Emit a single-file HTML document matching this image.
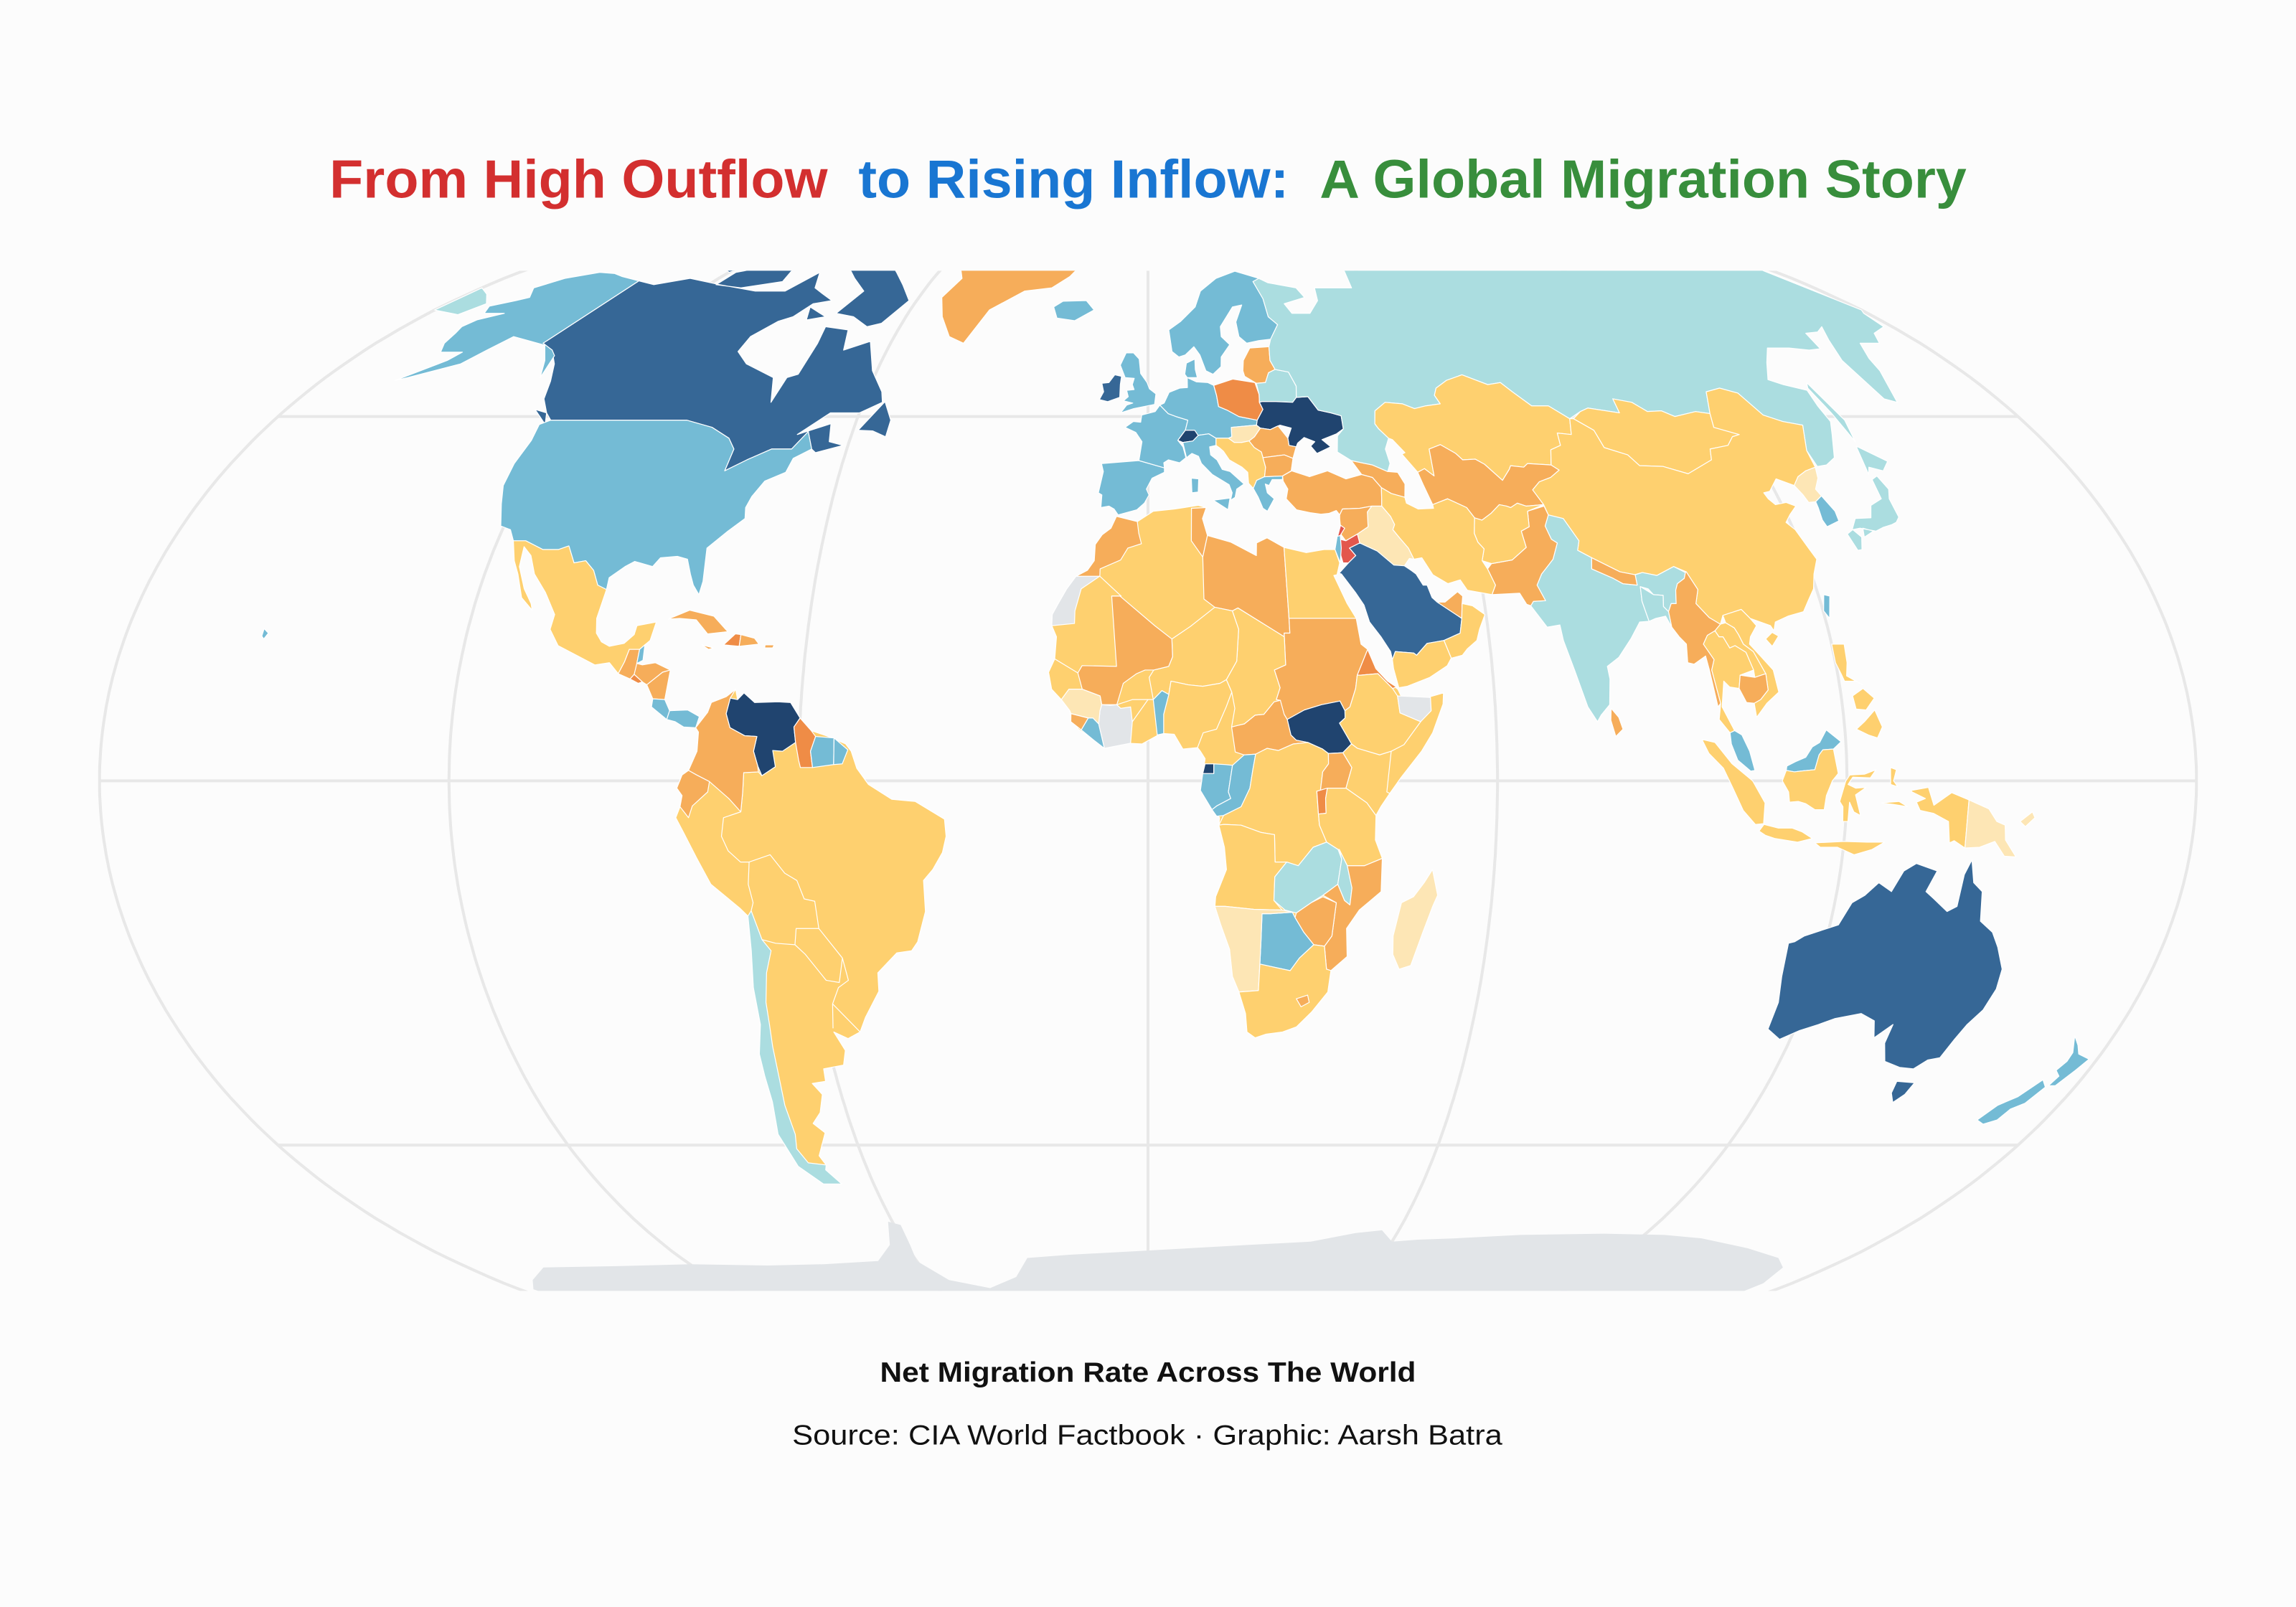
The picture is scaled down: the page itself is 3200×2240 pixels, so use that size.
<!DOCTYPE html>
<html><head><meta charset="utf-8"><title>Net Migration Rate Across The World</title>
<style>
html,body{margin:0;padding:0;background:#fcfcfc;}
svg{display:block;}
text{font-family:"Liberation Sans",sans-serif;white-space:pre;}
</style></head>
<body>
<svg id="chart" width="3200" height="2240" viewBox="0 0 1568 1098" preserveAspectRatio="none" xmlns="http://www.w3.org/2000/svg">
<rect x="0" y="0" width="1568" height="1098" fill="#fcfcfc"/>
<text x="225" y="135" font-size="37" font-weight="bold" textLength="1118" lengthAdjust="spacingAndGlyphs"><tspan fill="#d32f2f">From High Outflow  </tspan><tspan fill="#1976d2">to Rising Inflow:  </tspan><tspan fill="#388e3c">A Global Migration Story</tspan></text>
<defs><clipPath id="mapclip"><rect x="0" y="185" width="1568" height="697"/></clipPath></defs>
<g id="grat" clip-path="url(#mapclip)" fill="none" stroke="#e8e8e8" stroke-width="2"></g>
<g id="land" clip-path="url(#mapclip)" stroke="#ffffff" stroke-width="0.6" stroke-linejoin="round"></g>
<text x="601" y="944" font-size="19" font-weight="bold" fill="#111" textLength="366" lengthAdjust="spacingAndGlyphs">Net Migration Rate Across The World</text>
<text x="541" y="987" font-size="19" fill="#111" textLength="485" lengthAdjust="spacingAndGlyphs">Source: CIA World Factbook · Graphic: Aarsh Batra</text>
</svg>
<script>
// ---- data ----
const countryNames = ["Africa base","South America base","Antarctica","Canada","United States","Mexico","Guatemala","Belize","Honduras","El Salvador","Nicaragua","Costa Rica","Panama","Cuba","Haiti","Dominican Republic","Jamaica","Puerto Rico","Greenland","Iceland","Venezuela","Colombia","Ecuador","Guyana","Suriname","French Guiana","Chile","Spain","France","United Kingdom","Ireland","Germany","Poland","Switzerland","Denmark","Sweden","Lithuania","Belarus","Ukraine","Romania","Hungary","Serbia","Greece","Bulgaria","Italy","Turkey","Armenia","Russia","Kazakhstan","Uzbekistan","Mongolia","China","Taiwan","North Korea","South Korea","Japan","India","Nepal","Bangladesh","Sri Lanka","Pakistan","Afghanistan","Iran","Iraq","Syria","Jordan","Lebanon","Israel","Saudi Arabia","UAE","Oman","Yemen","Western Sahara","Morocco","Tunisia","Libya","Egypt","Sudan","Eritrea","South Sudan","CAR","Chad","Niger","Nigeria","Mali","Cote d'Ivoire","Guinea","Liberia","Sierra Leone","Benin","Gabon","Congo","Equatorial Guinea","DR Congo","Angola","Uganda","Rwanda","Ethiopia","Kenya","Somaliland","Tanzania","Zambia","Malawi","Mozambique","Zimbabwe","Botswana","Namibia","South Africa","Lesotho","Madagascar","Myanmar","Thailand","Laos","Vietnam","Cambodia","Malaysia","Indonesia","Papua New Guinea","Philippines","Australia","New Zealand"];
const netMigration = [-0.8,-0.8,null,5.5,2.5,-0.8,-2.5,2.5,-2.5,-5,-2.5,2.5,2.5,-2.5,-5,-2.5,-2.5,-2.5,-2.5,2.5,9,-2.5,-2.5,-5,2.5,2.5,0.8,2.5,2.5,2.5,5.5,2.5,-5,9,2.5,2.5,-2.5,0.8,9,-2.5,0,-0.8,2.5,-2.5,2.5,-2.5,-2.5,0.8,-0.8,-2.5,-0.8,-0.8,2.5,0,2.5,0.8,0.8,-2.5,0.8,-2.5,-2.5,-0.8,-0.8,0,-2.5,-10,-10,2.5,5.5,-2.5,-0.8,-0.8,null,-2.5,-2.5,-2.5,-0.8,-2.5,-5,9,-2.5,-0.8,-0.8,-0.8,-2.5,null,0,2.5,-2.5,2.5,2.5,2.5,9,-0.8,-0.8,-2.5,-5,-0.8,-0.8,null,-0.8,0.8,0.8,-2.5,-2.5,2.5,0,-0.8,-2.5,0,-2.5,-0.8,-0.8,-0.8,-2.5,2.5,-0.8,0,-0.8,5.5,2.5];
const binEdges = [-8,-4,-1.5,-0.3,0.3,1.5,4,8];
const binColors = ["#e3574d","#ef8c46","#f6ad5a","#fed06f","#fde6b5","#abdde0","#74bbd5","#366796","#20446f"];
const noDataColor = "#e2e5e8";

// ---- geometry (lon, lat) ----
const G = {
"Africa base":[[[-5.9,35.8],[-2,35.1],[1,36.5],[5,36.8],[9.5,37.3],[11,37],[10.2,35.5],[11,33.2],[15.3,32.3],[19.8,30.5],[20,32.2],[22,32.9],[25,31.6],[29,30.9],[32.3,31.3],[34.3,31.3],[34.9,29.5],[34.2,27.9],[33.6,27.8],[35.5,24],[36.9,22],[37.4,18.5],[38.5,17.8],[39.7,15.2],[41.6,13.5],[43.3,12.4],[44.4,10.4],[51.2,11.9],[51,10.4],[49,6.5],[47,4],[43.5,0.5],[41.5,-1.7],[40,-3.5],[39.2,-4.7],[39.2,-8],[40.5,-10.5],[40.6,-15],[37,-17.5],[35,-20],[35.5,-23.8],[32.8,-25.7],[32.6,-28.6],[30,-31.3],[27.5,-33.3],[25,-34],[22,-34.3],[20,-34.8],[18.4,-34],[17.9,-31.5],[16.5,-28.6],[15.2,-26.5],[14.5,-22.8],[12.8,-19.5],[11.7,-17],[11.8,-15.7],[13.6,-12],[13.2,-9],[12.2,-6],[12.3,-5],[11,-3.9],[9,-1.3],[9.4,1],[9.8,3],[9,4],[8.5,4.5],[6,4.3],[4.5,6.3],[2,6.3],[-1,5],[-3.5,5.1],[-7.5,4.4],[-9.5,5.6],[-12,7],[-13.3,8.5],[-13.5,9.5],[-15,11],[-16.7,12.4],[-17.3,14.7],[-16.3,16.5],[-16.1,19.5],[-17,21],[-17,22.5],[-16,24],[-14.6,26],[-13,27.7],[-11,28.5],[-9.8,29.8],[-9.7,32],[-8.5,33.3],[-6.9,34.2]]],
"South America base":[[[-77.9,7.2],[-76,9.3],[-75.5,10.6],[-73,11.4],[-71.5,12.4],[-71,11],[-71.6,10.5],[-68,10.6],[-64,10.7],[-61.8,10.6],[-60,8.5],[-58,6.8],[-55,6],[-52,5],[-51,4],[-50,1.7],[-48,-0.5],[-44,-2.5],[-40,-2.8],[-35,-5.2],[-34.8,-7.5],[-35.5,-9.7],[-37.3,-12],[-39,-13.5],[-39,-17.7],[-40.8,-21.8],[-42,-23],[-44.7,-23.3],[-48.5,-26],[-48.8,-28.5],[-52,-32],[-53.5,-34],[-56,-34.9],[-58.4,-34],[-57,-36.5],[-58,-38.5],[-62,-39],[-62.3,-40.7],[-65,-41],[-63.7,-42.5],[-65.3,-45],[-67.5,-46.5],[-65.8,-47.8],[-69,-51],[-68.4,-52.3],[-70,-53.5],[-67,-55],[-71,-55],[-74.5,-52.5],[-75.5,-48],[-74,-43.5],[-73.7,-40],[-73.4,-37],[-71.7,-33],[-71.4,-28],[-70.5,-23],[-70.2,-18.3],[-71.5,-17.2],[-76,-14],[-78,-10.5],[-80,-7],[-81.2,-5],[-80.4,-3.5],[-80,-2],[-80.9,-1],[-80,0.8],[-78.9,1.4],[-77.5,4],[-77.4,6.6]]],
"Antarctica":[[[-176,-75],[-176,-71],[-170,-69.5],[-160,-67.5],[-140,-67.3],[-120,-67],[-100,-67.2],[-85,-67],[-70,-66.5],[-64,-64],[-61,-60.5],[-58.5,-61],[-59,-64],[-60,-66.5],[-55,-69.5],[-45,-70.8],[-36,-69],[-31,-66],[-20,-65.5],[-5,-65],[10,-64.5],[25,-64],[40,-63.5],[50,-62.2],[56,-61.8],[60,-63.5],[66,-63.2],[75,-63],[90,-62.5],[110,-62.3],[125,-62.5],[135,-63],[150,-64.5],[162,-66],[168,-67.5],[172,-70],[174,-75]]],
"Canada":[[[-141,69.6],[-135,69],[-128,70],[-117,69],[-105,68],[-97,68],[-94,71],[-90,68.5],[-86,67.5],[-82,66.5],[-86,66],[-88,64],[-90.7,63.3],[-94,61],[-94,58.8],[-90,57],[-82,55],[-79.5,51.5],[-79,55],[-77,55.5],[-77,60],[-78,62.5],[-72,62],[-70,59],[-65,60.3],[-61,56],[-57,53],[-56,51.5],[-60,50],[-66,50],[-71,47],[-65,48.5],[-64,46],[-61,45.5],[-66,44.5],[-67,45],[-69,47.4],[-71,45],[-75,45],[-79,43.5],[-82.5,42],[-82.5,45],[-84.5,46.5],[-89,48],[-95,49],[-123,49],[-125,50],[-128,52],[-130,54.5],[-133,57],[-137,59],[-141,60]],
 [[-80,73.5],[-72,71],[-67,69],[-62,66.5],[-65,63],[-68,62.5],[-73,64],[-78,64.5],[-76,68],[-82,70],[-88,72]],
 [[-118,71],[-105,73],[-101,69.5],[-110,68.5],[-118,69]],[[-125,72],[-115,73],[-120,71]],[[-86,65.5],[-80,64],[-84,63.5]],
 [[-59,47.6],[-55.5,51.6],[-53,49],[-53,46.7],[-56,47.5]],[[-100,72],[-95,74],[-90,72.5]],[[-128,50.5],[-125,50],[-123.5,48.4]]],
"United States":[[[-123,49],[-95,49],[-89,48],[-84.5,46.5],[-82.5,45],[-82.5,42],[-79,43.5],[-75,45],[-71,45],[-69,47.4],[-67,45],[-70,43.7],[-70.5,41.8],[-74,40.6],[-75.5,38.5],[-76,37],[-75.5,35.5],[-78,33.8],[-81,31.5],[-80.2,27],[-80.4,25.2],[-81.8,26.5],[-82.8,28],[-84,30],[-86,30.4],[-89,30.2],[-90,29],[-93.5,29.7],[-95,29],[-97.3,27.5],[-97.2,25.9],[-99,26.5],[-100.5,28.5],[-102.5,29.8],[-104.5,29.5],[-106.5,31.8],[-108.2,31.3],[-111,31.3],[-114.8,32.5],[-117.1,32.5],[-118.5,34],[-120.6,34.5],[-122.5,37.5],[-124,40],[-124.4,43],[-124,46.2],[-124.7,48.4]],
 [[-141,69.6],[-141,60],[-137,59],[-135,58.2],[-133,55],[-136,57.5],[-140,59.7],[-146,60.5],[-150,61],[-152,59],[-154,57],[-158,56],[-162,55],[-164,54.6],[-158,57.5],[-157,58.7],[-162,58.7],[-164,60],[-165,61.5],[-166,62.5],[-165,63.5],[-161,64.5],[-166,64.5],[-168,65.6],[-164,66.5],[-162,67],[-166,68.5],[-163,70],[-157,71],[-152,70.8],[-148,70.3]],
 [[-156,20.6],[-155,20],[-155.5,19.2],[-156,19.6]]],
"Mexico":[[[-117.1,32.5],[-114.8,32.5],[-111,31.3],[-108.2,31.3],[-106.5,31.8],[-104.5,29.5],[-102.5,29.8],[-100.5,28.5],[-99,26.5],[-97.2,25.9],[-97.7,22],[-97.2,20],[-96,18.8],[-94.5,18.2],[-92,18.6],[-90.5,19.8],[-90.3,21],[-87,21.5],[-87.5,19],[-88.3,18.4],[-89.1,17.8],[-90.9,17.8],[-91.4,16.1],[-92.2,14.5],[-94,16],[-96.5,15.7],[-100,17],[-103.5,18.3],[-105.5,20.5],[-105.3,22.5],[-108,25.5],[-111,28],[-112.8,30.5],[-114.7,31.7],[-114.2,29],[-112,26],[-110,24],[-109.5,23.1],[-112,24.8],[-114,28],[-115.5,29.8]]],
"Guatemala":[[[-92.2,14.5],[-91.4,16.1],[-90.9,17.8],[-89.1,17.8],[-89.2,15.9],[-88.2,15.7],[-89.4,14.4],[-90,13.8]]],
"Belize":[[[-89.1,17.8],[-88.3,18.4],[-88.2,16.3],[-89.2,15.9]]],
"Honduras":[[[-89.2,15.9],[-88.2,15.7],[-86,16],[-83.2,15],[-84.5,14.7],[-87,13],[-87.8,13.4],[-89.4,14.4]]],
"El Salvador":[[[-90,13.8],[-89.4,14.4],[-87.8,13.4],[-88.5,13.2]]],
"Nicaragua":[[[-87,13],[-84.5,14.7],[-83.2,15],[-83.6,11],[-85.7,11.1]]],
"Costa Rica":[[[-85.7,11.1],[-83.6,11],[-82.6,9.5],[-83,8.3],[-85.8,10]]],
"Panama":[[[-83,8.3],[-82.6,9.5],[-79.5,9.6],[-77.4,8.7],[-77.9,7.2],[-80,7.3],[-81.5,8]]],
"Cuba":[[[-85,21.9],[-81.5,23.1],[-77,22.3],[-74.1,20.2],[-77.6,19.9],[-80,21.8],[-83,22]]],
"Haiti":[[[-74.5,18.4],[-72.7,19.9],[-71.7,19.8],[-71.7,18.2]]],
"Dominican Republic":[[[-71.7,19.8],[-69.2,19.3],[-68.3,18.5],[-71.7,18.2]]],
"Jamaica":[[[-78.3,18.4],[-76.2,18],[-77,17.8]]],
"Puerto Rico":[[[-67.2,18.4],[-65.6,18.4],[-65.8,18],[-67.2,18]]],
"Greenland":[[[-75,78],[-60,82],[-30,83.5],[-14,80],[-17,75],[-20,72],[-22,70.3],[-26,68.5],[-33,68],[-40,65],[-43,60],[-47,61],[-51,64],[-54,67],[-52,70],[-56,72.5],[-62,75.5],[-70,76.5]]],
"Iceland":[[[-24,65.5],[-22,66.4],[-16,66.5],[-13.6,65],[-18,63.4],[-22.5,63.8]]],
"Venezuela":[[[-72.3,11.2],[-71,11],[-70,11.9],[-68,10.6],[-64,10.7],[-61.8,10.6],[-60,8.5],[-61,7.3],[-60.6,5.2],[-62.8,4],[-64.5,4.1],[-64,1.9],[-66.3,0.7],[-67,2],[-67.8,4],[-67.3,6],[-69.4,6.1],[-72,7.2],[-72.8,9.1]]],
"Colombia":[[[-77.9,7.2],[-76,9.3],[-75.5,10.6],[-73,11.4],[-71.5,12.4],[-72.3,11.2],[-72.8,9.1],[-72,7.2],[-69.4,6.1],[-67.3,6],[-67.8,4],[-67,2],[-66.9,1.2],[-69.4,1.1],[-69.6,-1.5],[-70,-4.2],[-72,-2.4],[-75.3,-0.1],[-77.5,0.8],[-78.9,1.4],[-77.5,4],[-77.4,6.6]]],
"Ecuador":[[[-78.9,1.4],[-77.5,0.8],[-75.3,-0.1],[-75.6,-1.5],[-78.3,-3.4],[-79,-5],[-80.4,-3.5],[-80,-2],[-80.9,-1],[-80,0.8]]],
"Guyana":[[[-60,8.5],[-58,6.8],[-57.2,6],[-58,4],[-57.6,1.8],[-59.7,1.8],[-60,2.8],[-60.6,5.2],[-61,7.3]]],
"Suriname":[[[-57.2,6],[-54,5.8],[-54,2.2],[-57.6,1.8],[-58,4]]],
"French Guiana":[[[-54,5.8],[-51.6,4.2],[-52.5,2.3],[-54,2.2]]],
"Chile":[[[-70.2,-18.3],[-69.5,-17.6],[-68.3,-21.5],[-67,-23],[-68.5,-26],[-69.7,-30],[-70,-33],[-70.5,-36],[-71,-40],[-71.8,-44],[-72,-48],[-73,-50],[-72,-52],[-68.4,-52.3],[-69,-53],[-67,-55],[-71,-55],[-74.5,-52.5],[-75.5,-48],[-74,-43.5],[-73.7,-40],[-73.4,-37],[-71.7,-33],[-71.4,-28],[-70.5,-23]]],
"Spain":[[[-9,43],[-1.8,43.4],[3.2,42.4],[3.2,41.8],[0.8,41],[-0.3,39.5],[0.2,38.7],[-0.7,37.6],[-2.1,36.7],[-5.6,36],[-6.4,36.8],[-7.4,37.2],[-8.9,37],[-8.8,38.7],[-9.5,39],[-8.7,41.9],[-9.2,43.2]]],
"France":[[[-1.8,43.4],[-1.2,46],[-2.5,47.3],[-4.7,48],[-3,48.8],[-1.5,48.7],[-1.3,49.7],[1.5,50.2],[2.5,51.1],[4.2,49.9],[5.8,49.5],[8.2,49],[7.6,47.6],[6,46.2],[7,45.3],[7.5,43.8],[6.2,43.1],[4,43.5],[3.1,43.1],[3.2,42.4]]],
"United Kingdom":[[[-5.7,50],[-3,50.6],[1.4,51.2],[1.7,52.7],[0.3,53.4],[-0.2,54.3],[-1.6,55.6],[-2,57.7],[-3.3,58.6],[-5,58.6],[-6.2,56.8],[-5,55],[-3,54.9],[-3.4,54],[-3,53.3],[-4.6,53.2],[-4.2,52.3],[-5.2,51.7],[-3.2,51.4],[-4.5,51.1]]],
"Ireland":[[[-6,52.2],[-6,54],[-5.8,55.2],[-7.3,55.4],[-8.5,54.3],[-10,54.2],[-9.5,53],[-10.3,51.9],[-8.5,51.6]]],
"Germany":[[[2.5,51.1],[3.4,51.4],[4.5,52.9],[6.8,53.5],[8.5,53.6],[8.6,55],[10.5,54.4],[13,54.3],[14.2,53.9],[14.6,52.5],[14.8,50.9],[16.5,50.4],[18.8,49.5],[22.5,49],[22.2,48.3],[20.4,48.2],[17,48],[16.9,46.7],[16.2,46.5],[13.7,46.5],[12.3,47.1],[10.2,46.9],[9,46.1],[7,45.9],[6,46.2],[7.6,47.6],[8.2,49],[5.8,49.5],[4.2,49.9]]],
"Poland":[[[14.2,53.9],[18.5,54.8],[23.2,54.3],[23.7,52.6],[23.5,51.5],[24,50.5],[22.5,49],[18.8,49.5],[16.5,50.4],[14.8,50.9],[14.6,52.5]]],
"Switzerland":[[[6,46.2],[7.6,47.6],[9.5,47.6],[10.4,46.6],[9,46.1],[7,45.9]]],
"Denmark":[[[8.1,55.5],[8.6,57.1],[10.6,57.7],[10.5,56.2],[10.8,55],[8.6,55]]],
"Sweden":[[[5,62],[5.5,58.8],[7,58],[8.5,58.3],[10.6,59.5],[11.8,58.3],[12.8,56],[14.3,55.5],[16.3,56.6],[16.6,58],[19,59.8],[17.3,61],[17.5,62.5],[21.5,65.5],[24,65.8],[21.5,63.2],[21.5,61],[23,60],[26,60.4],[28.8,60.6],[31.5,62.8],[29.8,64],[30,66.8],[29,69.5],[31,70],[25,71.2],[19,70],[14,68],[12,65.5],[8,63.3]]],
"Lithuania":[[[21,56],[21.5,57.5],[23.5,59.3],[28,59.5],[27.5,57.5],[28.2,56.2],[26.6,55.7],[25.5,54.3],[23.5,54.2],[21.2,55.2]]],
"Belarus":[[[23.7,52.6],[23.5,54.2],[25.5,54.3],[26.6,55.7],[28.2,56.2],[31,55.8],[32,53.8],[31.5,52.2],[30.5,51.5],[27,51.6],[24,51.6],[23.5,51.5]]],
"Ukraine":[[[24,50.5],[23.5,51.5],[24,51.6],[27,51.6],[30.5,51.5],[31.5,52.2],[34,52.3],[35.5,50.4],[38,50],[40,49.6],[39.8,47.8],[38.2,47.1],[35,46.3],[36.5,45.3],[33.5,44.4],[32.5,45.4],[33.5,46],[31.5,46.6],[30,45.8],[29.6,45.3],[28.2,45.5],[28.2,46.5],[29.2,47.9],[27,48.3],[26.6,48.2],[24.9,47.7],[22.9,47.9],[22.2,48.3],[22.5,49]]],
"Romania":[[[22.9,47.9],[24.9,47.7],[26.6,48.2],[28.2,46.5],[28.2,45.5],[29.6,45.3],[28.6,43.7],[27,44.2],[22.7,43.8],[22.5,44.6],[21.2,45.2],[20.3,46.1],[21.5,46.7]]],
"Hungary":[[[16.2,46.5],[16.9,46.7],[17,48],[20.4,48.2],[22.2,48.3],[22.9,47.9],[21.5,46.7],[20.3,46.1],[18.8,45.9],[17.3,45.9]]],
"Serbia":[[[13.7,46.5],[16.2,46.5],[17.3,45.9],[18.8,45.9],[20.3,46.1],[21.2,45.2],[22.5,44.6],[22.7,43.8],[23,42.5],[22.6,41.2],[21,40.7],[20.2,39.6],[19.4,40.3],[19.4,41.8],[18.4,42.5],[16,43.5],[15,44.7],[14.2,45.2],[13.6,45.5]]],
"Greece":[[[20.2,39.6],[21,40.7],[22.6,41.2],[26.1,41.3],[26,40.8],[24,40.8],[23.3,40],[22.6,40.2],[22.8,39],[24,38.2],[22.5,36.5],[21.7,36.9],[21,38.4]]],
"Bulgaria":[[[22.7,43.8],[27,44.2],[28.6,43.7],[27.9,42],[26.1,41.3],[22.6,41.2],[23,42.5]]],
"Italy":[[[7,45.9],[9,46.1],[10.2,46.9],[12.3,47.1],[13.7,46.5],[13.6,45.5],[12.3,45.3],[12.4,44.2],[13.6,43.5],[14.5,42.2],[16,41.9],[18.5,40.2],[17,39.5],[16.6,38.4],[15.7,38],[16.1,39],[15.6,40.1],[14.5,40.6],[12.5,41.5],[10.5,43],[10,44],[8.7,44.4],[7.6,43.8]],[[12.4,38],[15.6,38.3],[15.1,36.7]],[[8.4,41],[9.8,40.9],[9.6,39.1],[8.4,39]]],
"Turkey":[[[26.1,41.3],[28,42],[31.3,41.2],[35,42],[38.3,40.9],[41.5,41.5],[43.5,41.1],[44.8,39.7],[44.4,38],[44.2,37.2],[42.3,37.2],[40,36.9],[36.7,36.8],[36,36],[35.5,36.6],[34,36.2],[32.5,36.1],[30.5,36.3],[28,36.7],[26.3,38.2],[26.8,39.5],[26.1,40.6]]],
"Armenia":[[[41.5,41.5],[40,43.4],[44,42.8],[46.7,41.9],[48.6,41.8],[49.5,40.2],[48.9,38.4],[46.5,38.9],[44.8,39.7],[43.5,41.1]]],
"Russia":[[[27.5,57.5],[28.2,56.2],[31,55.8],[32,53.8],[31.5,52.2],[34,52.3],[35.5,50.4],[38,50],[40,49.6],[39.8,47.8],[38.3,46.8],[37.6,44.6],[40,43.4],[44,42.8],[46.7,41.9],[47.5,43],[47.3,45],[48.5,46.5],[47,47.8],[46.5,48.5],[47.3,50.3],[50,51.5],[53.5,51.3],[55.7,50.6],[58.3,51],[61.5,51.3],[61,52.5],[62,53.5],[65,54.6],[69,55.4],[73.5,54],[76.5,54.3],[78,53],[80.5,51],[84,51],[87,49.2],[90,50.2],[92,50.7],[98,50],[98.5,52],[102,51.5],[104,50.2],[107,50.3],[109,49.5],[114,50.2],[116.7,49.9],[119.5,53],[123,53.5],[126,52.8],[127.5,49.7],[130.5,48.8],[134,48.3],[131,44.8],[131,42.6],[133,42.8],[135.5,43.8],[138.5,47],[140.3,48.8],[140.5,51],[141.4,53.2],[137.5,54],[135.2,54.7],[139,57.2],[143,59.3],[148,59.3],[152,59],[155,59.2],[156.7,61.5],[160,61.7],[163,62.5],[159.8,60.5],[156.5,57.5],[156,52],[158,51.5],[162,56],[163.2,57.8],[166,60],[170.5,60],[173,61.5],[178,62.5],[179,64.5],[180,65],[180,75],[60,75],[55,68.5],[45,68.5],[44,66.5],[40.5,64.5],[36,64.5],[35,66],[41,67],[40,68.5],[33,69.3],[31,70],[29,69.5],[30,66.8],[29.8,64],[31.5,62.8],[28.8,60.6],[28,59.5]],
 [[142,46],[143.5,49],[143,54.3],[142,53.5],[142,50]],[[-180,65],[-172,64.3],[-170,66],[-175,67.5],[-180,68.5]]],
"Kazakhstan":[[[47.3,50.3],[46.5,48.5],[47,47.8],[48.5,46.5],[49.2,46.3],[51,44.5],[50.3,44.3],[52.5,41.8],[54,42.3],[55.5,41.3],[56,45],[58.5,45.6],[61,44.4],[62,43.5],[64.5,43.6],[66,42.9],[68.5,40.7],[70.5,42.2],[71,42.7],[73.5,42.5],[74.5,43],[79,42.8],[80.2,44.9],[82.5,45.5],[83,47.2],[85.7,47],[87,49.2],[84,51],[80.5,51],[78,53],[76.5,54.3],[73.5,54],[69,55.4],[65,54.6],[62,53.5],[61,52.5],[61.5,51.3],[58.3,51],[55.7,50.6],[53.5,51.3],[50,51.5]]],
"Uzbekistan":[[[52.5,41.8],[53,40],[53.9,37.4],[57,38.2],[60.2,37],[61.2,35.6],[62.5,35.3],[64.5,36.2],[66.5,37.4],[67.8,37.2],[68.5,37],[70,37.6],[71.5,37.2],[74.9,37.4],[73.7,39.4],[75.5,40.5],[78,41.1],[80.2,42.1],[79,42.8],[74.5,43],[73.5,42.5],[71,42.7],[70.5,42.2],[68.5,40.7],[66,42.9],[64.5,43.6],[62,43.5],[61,44.4],[58.5,45.6],[56,45],[55.5,41.3],[54,42.3]]],
"Mongolia":[[[87.8,49.2],[90,50.2],[92,50.7],[98,50],[98.5,52],[102,51.5],[104,50.2],[107,50.3],[109,49.5],[114,50.2],[116.7,49.9],[115.5,48],[119.7,47],[118,46.7],[116,45.5],[112,45],[111,43.5],[105,41.6],[100.8,42.6],[96.3,42.7],[95,44.2],[91,45.2],[90.7,47.6]]],
"China":[[[73.7,39.4],[74.9,37.4],[75.2,36],[77.8,35.5],[79.5,32.5],[78.8,31.2],[81,30.2],[85.5,28.3],[88,27.9],[89.5,28.2],[92,27.8],[95.5,29],[97.5,28.3],[98.7,25.9],[97.7,24],[99.5,22.1],[101.2,21.2],[102,22.4],[105.5,23.2],[106.7,22],[108,21.6],[110,21],[110.4,20.3],[111,21.5],[113.5,22.3],[116.5,22.9],[118,24.5],[119.5,26],[120.5,28],[122,30],[121.3,31.5],[120.3,34],[119.2,35],[120.7,36.1],[122.5,37.2],[121,37.7],[118.8,37.4],[118,38.2],[117.7,39],[119,39.2],[121.5,40.9],[124.3,40],[126,41.2],[128.2,42],[130.5,42.5],[131,44.8],[134,48.3],[130.5,48.8],[127.5,49.7],[126,52.8],[123,53.5],[119.5,53],[116.7,49.9],[115.5,48],[119.7,47],[118,46.7],[116,45.5],[112,45],[111,43.5],[105,41.6],[100.8,42.6],[96.3,42.7],[95,44.2],[91,45.2],[90.7,47.6],[87.8,49.2],[87,49.2],[85.7,47],[83,47.2],[82.5,45.5],[80.2,44.9],[79,42.8],[80.2,42.1],[78,41.1],[75.5,40.5]],[[108.6,19.2],[110,20.1],[111,19.6],[109.5,18.2]]],
"Taiwan":[[[120.1,23],[121,25.2],[122,25],[120.8,22]]],
"North Korea":[[[124.3,40],[126,41.2],[128.2,42],[130.5,42.5],[129.7,41],[128,39.5],[128.4,38.6],[126.7,37.8],[125.3,37.7],[125,38.7]]],
"South Korea":[[[126.7,37.8],[128.4,38.6],[129.4,36.5],[129.2,35.2],[126.5,34.4],[126.2,35.3],[126.6,37]]],
"Japan":[[[130.9,34],[132.5,35.5],[135.5,35.6],[136.8,37.3],[139.5,38.2],[140,40.8],[141.4,41.3],[142,39.5],[141,38.2],[140.8,35.7],[139.8,35],[138.8,34.7],[136.8,34.3],[135.2,33.8],[132.5,34.2]],[[129.6,33.4],[131,34],[132,33],[131,31.3],[130.2,31.2]],[[132.5,33],[134.7,33.8],[133,34.2]],[[140,41.5],[141.5,45.4],[145.5,43.3],[143.3,42],[141,42.5]]],
"India":[[[68.2,23.7],[70.5,20.8],[72.8,21.1],[73,19],[74.3,15],[76,10],[77.5,8],[78.2,8.9],[79.8,10.3],[80.3,13.8],[80.1,15.5],[82.3,16.7],[85,19.3],[87,21.5],[88.7,21.6],[88.2,24.3],[88.5,26.3],[89.8,26],[90.5,25.2],[92.2,25.1],[91.8,23.6],[92.5,22.9],[93.3,24],[94.2,24],[94.7,25.8],[95.3,26.7],[96.8,27.4],[97.3,28.2],[95.5,29],[92,27.8],[89.5,28.2],[88.1,27.9],[88,26.5],[85.5,26.7],[84,27.4],[80.5,28.7],[81,30.2],[78.8,31.2],[79.5,32.5],[77.8,35.5],[75.2,36],[74,34.5],[74.5,32.7],[75.4,32.2],[73.9,30],[71.2,28],[70,26.5],[71,24.4],[68.8,24.3]]],
"Nepal":[[[80.5,28.7],[84,27.4],[85.5,26.7],[88,26.5],[88.1,27.9],[85.5,28.3],[81,30.2]]],
"Bangladesh":[[[88.2,24.3],[88.7,21.6],[90,22],[91.8,22.3],[92.5,20.8],[92.5,22.9],[91.8,23.6],[92.2,25.1],[90.5,25.2],[88.5,26.3]]],
"Sri Lanka":[[[79.8,8.2],[80,9.8],[81.2,8.6],[81.8,7],[80.5,6]]],
"Pakistan":[[[61.6,25.2],[66.6,25.4],[67.5,23.9],[68.2,23.7],[68.8,24.3],[71,24.4],[70,26.5],[71.2,28],[73.9,30],[75.4,32.2],[74.5,32.7],[74,34.5],[75.2,36],[74.9,37.2],[71.5,36.5],[71,34.4],[69.3,33.8],[69.5,31.6],[66.4,29.9],[62.5,29.4],[61.6,28.7],[62.5,26.5]]],
"Afghanistan":[[[60.5,33.5],[61.2,35.6],[62.5,35.3],[64.5,36.2],[66.5,37.4],[67.8,37.2],[68.5,37],[70,37.6],[71.5,37.2],[74.9,37.4],[71.5,36.5],[71,34.4],[69.3,33.8],[69.5,31.6],[66.4,29.9],[62.5,29.4],[60.9,29.8],[61.7,31.4],[60.8,32.3]]],
"Iran":[[[44.8,39.7],[44.4,38],[44.2,37.2],[45.5,35.8],[46,34.7],[45.5,34],[46.5,32.9],[47.8,31.5],[48.5,30],[50,30.2],[51.5,27.9],[54,26.7],[56.3,27.2],[57.3,25.8],[61.6,25.2],[62.5,26.5],[61.6,28.7],[60.9,29.8],[61.7,31.4],[60.8,32.3],[60.5,33.5],[61.2,35.6],[60.2,37],[57,38.2],[53.9,37.4],[53.9,36.9],[51,36.8],[49,37.6],[48.9,38.4],[46.5,38.9]]],
"Iraq":[[[42.3,37.2],[44.2,37.2],[45.5,35.8],[46,34.7],[45.5,34],[46.5,32.9],[47.8,31.5],[48.5,30],[47.7,30.1],[46.6,29.1],[44.7,29.2],[42,31.1],[39,32.2],[38.8,33.4],[41,34.4],[41.3,36.4]]],
"Syria":[[[36,36],[36.7,36.8],[40,36.9],[42.3,37.2],[41.3,36.4],[41,34.4],[38.8,33.4],[36.5,32.5],[35.8,33.3],[35.9,35.5]]],
"Jordan":[[[35.5,29.5],[35,31.5],[35.5,32.7],[36.5,32.5],[38.8,33.4],[39,32.2],[37,31.5],[38,30.5],[36.5,29.5]]],
"Lebanon":[[[35.1,33.1],[35.9,34.6],[36.6,34.2],[35.6,33.2]]],
"Israel":[[[34.3,31.3],[35,33.1],[35.6,33.2],[35.5,31.5],[35,29.5]]],
"Saudi Arabia":[[[36.5,29.5],[38,30.5],[37,31.5],[39,32.2],[42,31.1],[44.7,29.2],[46.6,29.1],[47.7,28.5],[48.5,28],[49.5,26.5],[50.2,26.5],[50.8,24.8],[51.6,24.2],[55.6,22],[55,20],[52,19],[49,18.6],[47,17],[46.5,17.3],[43.3,17.5],[42.7,16.4],[42.5,17.5],[41,19.5],[39.2,21.5],[38.5,23.8],[37.2,25.5],[35,28],[34.6,28.1]]],
"UAE":[[[51.6,24.2],[53,24.2],[55.5,25.6],[56.3,25],[56,24],[55.6,22]]],
"Oman":[[[56,24],[57.8,23.7],[59.8,22.5],[58.5,20.5],[57.8,19],[56,17.9],[55,17],[53,16.6],[52,19],[55,20],[55.6,22]]],
"Yemen":[[[42.7,16.4],[43.3,17.5],[46.5,17.3],[47,17],[49,18.6],[52,19],[53,16.6],[52.2,15.6],[49,14],[45,12.8],[43.5,12.6],[42.8,15.2]]],
"Western Sahara":[[[-17,21],[-13,21.3],[-13,23],[-12,26],[-8.7,27.7],[-13,27.7],[-14.6,26],[-16,24],[-17,22.5]]],
"Morocco":[[[-5.9,35.8],[-2,35.1],[-1.7,33.5],[-1.2,32.1],[-3.7,31.5],[-5,29.9],[-8.7,28.7],[-8.7,27.7],[-13,27.7],[-11,28.5],[-9.8,29.8],[-9.7,32],[-8.5,33.3],[-6.9,34.2]]],
"Tunisia":[[[8.2,36.9],[11,37],[10.2,35.5],[11,33.2],[10,30.3],[8,32.5]]],
"Libya":[[[11,33.2],[15.3,32.3],[19.8,30.5],[20,32.2],[22,32.9],[25,31.6],[25,22],[25,20],[24,20],[24,19.5],[16,23.4],[15,23],[11.9,23.5],[10,24.6],[10,30.3]]],
"Egypt":[[[25,31.6],[29,30.9],[32.3,31.3],[34.3,31.3],[34.9,29.5],[34.2,27.9],[33.6,27.8],[35.5,24],[36.9,22],[25,22]]],
"Sudan":[[[25,22],[36.9,22],[37.4,18.5],[38.5,17.8],[36.4,14.3],[36,12.5],[34.9,10],[34,9.5],[33.2,10.8],[30,10.3],[27,9.6],[24,8.3],[23.5,9],[22.2,11],[22.9,12.6],[22,15],[24,15.7],[24,19.5],[24,20],[25,20]]],
"Eritrea":[[[36.4,14.3],[38.5,17.8],[39.7,15.2],[41.6,13.5],[43.1,12.7],[42.4,12.5],[40,14.5],[37,14.3]]],
"South Sudan":[[[24,8.3],[27,9.6],[30,10.3],[33.2,10.8],[34,9.5],[34,8.5],[33,7.8],[35,5],[33.5,3.8],[31,3.7],[30,4.3],[27.5,5.2],[25.5,5.5],[24.6,6.2]]],
"CAR":[[[14.4,7.3],[15.5,7.5],[16.6,7.7],[18.5,8.9],[20,9],[21.8,10.7],[22.9,10.9],[23.5,9],[24,8.3],[24.6,6.2],[25.5,5.5],[27.5,5.2],[25,5],[22.4,4.1],[20.5,4.4],[18.5,3.6],[16.5,3.5],[15,3.9]]],
"Chad":[[[13.6,13.7],[14.5,12],[15,9.8],[14.4,7.3],[15.5,7.5],[16.6,7.7],[18.5,8.9],[20,9],[21.8,10.7],[22.9,10.9],[22.2,11],[22.9,12.6],[22,15],[24,15.7],[24,19.5],[16,23.4],[15,23],[16,20.5],[15.5,16.2]]],
"Niger":[[[0.9,11],[2.4,12.2],[3.6,11.7],[4,13.5],[7,13],[9.5,12.8],[12.5,13.2],[13.6,13.7],[15.5,16.2],[16,20.5],[15,23],[11.9,23.5],[7.5,20.9],[4.2,19.2],[4.3,16.8],[3.6,15.5],[1,15],[0.2,14]]],
"Nigeria":[[[2.7,6.4],[4.5,6.3],[6,4.3],[8.5,4.5],[9.5,6.5],[11.8,7],[13.5,10],[14.5,12],[13.6,13.7],[12.5,13.2],[9.5,12.8],[7,13],[4,13.5],[3.6,11.7],[2.7,9]]],
"Mali":[[[-12.2,14.6],[-11.5,15.6],[-5.5,15.5],[-6.5,25],[-5,25],[1.2,21],[4.2,19.2],[4.3,16.8],[3.6,15.5],[1,15],[-0.5,15],[-2,14.5],[-4.3,13.2],[-5.4,10.3],[-8,10.3],[-8.3,11.5],[-11.4,12.4]]],
"Cote d'Ivoire":[[[-8.5,7.7],[-7.5,4.4],[-3,5.1],[-2.7,8],[-3,10],[-4.7,9.8],[-5.4,10.3],[-6.5,10.2],[-8,10.3],[-8.3,9.5]]],
"Guinea":[[[-15,11],[-13.7,12.4],[-11.4,12.4],[-8.3,11.5],[-8,10.3],[-8.3,9.5],[-8.5,7.7],[-9.5,8.5],[-10.3,8.5],[-13.3,9.1],[-13.5,9.5]]],
"Liberia":[[[-11.5,6.9],[-10.3,8.5],[-9.5,8.5],[-8.5,7.7],[-7.5,4.4],[-9.5,5.6]]],
"Sierra Leone":[[[-13.3,9.1],[-10.3,8.5],[-11.5,6.9],[-13.3,8]]],
"Benin":[[[1.6,6.2],[2.7,6.4],[2.7,9],[3.6,11.7],[2.4,12.2],[0.9,11]]],
"Gabon":[[[9.4,1],[11.3,1],[11.3,2.3],[13.3,2.2],[14.5,2.1],[13.8,-1.5],[14.2,-2.4],[11.8,-3.4],[11,-3.9],[9,-1.3]]],
"Congo":[[[11,-3.9],[11.8,-4.8],[13,-4.7],[16,-3.5],[17.5,-1],[18,1.5],[18.5,3.6],[16.5,3.5],[14.5,2.1],[13.8,-1.5],[14.2,-2.4],[11.8,-3.4]]],
"Equatorial Guinea":[[[9.4,1],[11.3,1],[11.3,2.3],[9.8,2.3]]],
"DR Congo":[[[12.2,-6],[13,-4.7],[16,-3.5],[17.5,-1],[18,1.5],[18.5,3.6],[20.5,4.4],[22.4,4.1],[25,5],[27.5,5.2],[30,4.3],[31,3.7],[31,2.3],[30,1.2],[29.6,-1.4],[29,-1.4],[29.3,-4.5],[29.5,-6],[30.8,-8.3],[28.5,-9],[26,-11.5],[24,-11],[22,-11],[21.8,-7.3],[19.5,-7],[16,-6],[13,-5.9]]],
"Angola":[[[11.8,-15.7],[13.6,-12],[13.2,-9],[12.2,-6],[13,-5.9],[16,-6],[19.5,-7],[21.8,-7.3],[22,-11],[24,-11],[22,-13],[22,-16.2],[23.5,-17.5],[18.5,-17.4],[13.5,-17],[11.7,-17]]],
"Uganda":[[[29.6,-1.4],[30,1.2],[31,2.3],[31,3.7],[33.5,3.8],[35,1.8],[34,-1],[31,-1]]],
"Rwanda":[[[29,-1.4],[30.8,-1],[30.5,-2.4],[30.6,-4.4],[29.3,-4.5]]],
"Ethiopia":[[[33,7.8],[34,8.5],[34,9.5],[34.9,10],[36,12.5],[36.4,14.3],[37,14.3],[40,14.5],[42.4,12.5],[43.2,11.5],[43.5,9.2],[47,8],[44,4.9],[41.8,4],[39.8,3.5],[36,4.4],[35,5]]],
"Kenya":[[[35,5],[36,4.4],[39.8,3.5],[41.8,4],[41,-1.5],[41.5,-1.7],[40,-3.5],[39.2,-4.7],[37.6,-3],[34,-1],[35,1.8],[33.5,3.8]]],
"Somaliland":[[[43.2,11.5],[48.9,11.3],[48.9,9.5],[47,8],[43.5,9.2]]],
"Tanzania":[[[29.3,-4.5],[30.6,-4.4],[30.5,-2.4],[30.8,-1],[34,-1],[37.6,-3],[39.2,-4.7],[39.2,-8],[40.5,-10.5],[37.5,-11.5],[34.5,-11.5],[33,-9.3],[32.8,-9.3],[30.8,-8.3],[29.5,-6]]],
"Zambia":[[[22,-13],[24,-11],[26,-11.5],[28.5,-9],[30.8,-8.3],[32.8,-9.3],[33.5,-10.6],[33,-14],[30.5,-15.5],[28.5,-16.5],[26,-17.9],[24,-17.5],[22,-16.2]]],
"Malawi":[[[33,-9.3],[34.5,-11.5],[35.5,-14.5],[35.3,-16.8],[34.3,-16.2],[33,-14],[33.5,-10.6]]],
"Mozambique":[[[40.5,-10.5],[40.6,-15],[37,-17.5],[35,-20],[35.5,-23.8],[32.8,-25.7],[32,-25.5],[31.3,-22.4],[32.5,-21],[32.9,-16.5],[30.5,-15.5],[33,-14],[34.3,-16.2],[35.3,-16.8],[35.5,-14.5],[34.5,-11.5],[37.5,-11.5]]],
"Zimbabwe":[[[26,-17.9],[28.5,-16.5],[30.5,-15.7],[32.9,-16.5],[32.5,-21],[31.3,-22.4],[29.4,-22.2],[27.5,-20.5],[25.8,-18.5]]],
"Botswana":[[[20,-18],[21.5,-18],[25.3,-17.8],[25.8,-18.5],[27.5,-20.5],[29.4,-22.2],[27,-24],[25.5,-25.7],[23,-25.3],[20,-24.8],[20,-22]]],
"Namibia":[[[11.7,-17],[13.5,-17],[18.5,-17.4],[23.5,-17.5],[25.3,-17.8],[21.5,-18],[20,-18],[20,-22],[20,-24.8],[20,-28.4],[16.5,-28.6],[15.2,-26.5],[14.5,-22.8],[12.8,-19.5]]],
"South Africa":[[[16.5,-28.6],[20,-28.4],[20,-24.8],[23,-25.3],[25.5,-25.7],[27,-24],[29.4,-22.2],[31.3,-22.4],[32,-25.5],[32.8,-25.7],[32.6,-28.6],[30,-31.3],[27.5,-33.3],[25,-34],[22,-34.3],[20,-34.8],[18.4,-34],[17.9,-31.5]]],
"Lesotho":[[[27,-29.5],[29,-29],[29.4,-30],[28,-30.6]]],
"Madagascar":[[[49.3,-12],[50.5,-15.5],[49.8,-17],[48.5,-20.5],[47,-25],[45,-25.5],[43.6,-23.5],[43.3,-21],[44.3,-16.5],[46.3,-15.7],[48,-13.8]]],
"Myanmar":[[[92.5,20.8],[92.5,22.9],[93.3,24],[94.2,24],[94.7,25.8],[95.3,26.7],[96.8,27.4],[97.3,28.2],[97.5,28.3],[98.7,25.9],[97.7,24],[99.5,22.1],[101.2,21.2],[100,20.3],[98.5,19.7],[97.5,18.5],[98.9,16.4],[98.2,15],[99,10.5],[98.5,10],[97.8,15],[97.5,16.9],[95.3,15.8],[94.2,16],[94.5,18.5],[93.5,19.5]]],
"Thailand":[[[97.5,18.5],[98.5,19.7],[100,20.3],[100.5,19.5],[101.2,19.5],[102,18],[103,18.3],[104.7,17.4],[105.5,15],[103,14.3],[102.5,12.5],[100.9,12.7],[100,13.5],[99.2,10],[100.3,8],[101,6.8],[100.2,6.5],[98.5,8.3],[99,10.5],[98.2,15],[98.9,16.4]]],
"Laos":[[[101.2,21.2],[102.2,21.4],[103.5,20.7],[104,19.8],[104.5,18.5],[106,17.5],[107.5,14.5],[105.5,14],[105.5,15],[104.7,17.4],[103,18.3],[102,18],[101.2,19.5],[100.5,19.5],[100,20.3]]],
"Vietnam":[[[102,22.4],[105.5,23.2],[106.7,22],[107.5,21],[106,19.5],[105.6,18.5],[107,17],[108.9,15],[109.3,12],[107,10.5],[105,8.6],[104.8,10.5],[106,11],[107.5,12.3],[107.5,14.5],[106,17.5],[104.5,18.5],[104,19.8],[103.5,20.7],[102.2,21.4]]],
"Cambodia":[[[102.5,12.5],[103,14.3],[105.5,14],[107.5,14.5],[107.5,12.3],[106,11],[104.8,10.5],[103.5,10.6]]],
"Malaysia":[[[100.2,6.5],[101,6.8],[102.2,6.2],[103.4,4],[104.2,1.4],[103.5,1.3],[101.3,2.8],[100.3,5]],
 [[109.6,1.4],[109.7,2],[111.2,2.6],[113,3.2],[114.2,4.6],[115.5,5.2],[116.8,6.9],[119.2,5.3],[117.8,4.3],[116,4.2],[115.3,3.5],[114.5,1.5],[112,1.3],[111,1.2]]],
"Indonesia":[[[108.9,0],[109.6,1.4],[111,1.2],[112,1.3],[114.5,1.5],[115.3,3.5],[116,4.2],[117.8,4.3],[118.5,1],[117.5,0],[116.5,-2],[116.2,-3.9],[114.6,-3.9],[113,-3.1],[111.7,-2.8],[110.2,-2.9],[110,-1.5]],
 [[95.3,5.6],[97.5,5.2],[100.3,2.3],[103.8,0],[106,-3],[105.9,-5.8],[104.5,-5.9],[102.3,-4],[100.3,-0.8],[98.8,1.7],[96.4,3.7]],
 [[105.2,-6.8],[106,-5.9],[108.5,-6.4],[110.9,-6.4],[112.6,-6.9],[114.5,-7.8],[112,-8.3],[108,-7.8],[106.4,-7.4]],
 [[119.5,-5.5],[119.4,-3.5],[118.8,-2.8],[119.8,0],[120.5,0.8],[123,0.9],[125,1.5],[124,0.4],[121,0.5],[120.2,-0.5],[121.5,-1],[123.3,-0.9],[121.5,-1.9],[122.5,-4.7],[121.3,-4.2],[120.5,-2.9],[120.4,-5.5]],
 [[115,-8.4],[120,-8.2],[124,-8.3],[127,-8.3],[125,-9.3],[122,-10],[119,-9],[116,-9]],
 [[131,-1.3],[134,-0.9],[135,-3.3],[138,-1.6],[141,-2.6],[141,-9.1],[139,-8.1],[138.2,-8.4],[137.7,-5.5],[135,-4.4],[132.7,-4],[132,-2.9],[133.5,-2.4],[131.2,-1.5]],
 [[127.5,1.8],[128.5,1.5],[128,0],[128.7,-0.8],[127.5,-0.5]],[[126,-3],[128,-3.2],[130.5,-3.5],[129,-2.8]]],
"Papua New Guinea":[[[141,-2.6],[144.5,-3.8],[146,-5.5],[147.5,-6],[147.8,-8],[150,-10.3],[148,-10.2],[146,-8.2],[143.5,-9],[141,-9.1]],[[150,-5.5],[152,-4.2],[152.5,-5],[151,-6.2]]],
"Philippines":[[[120,18.5],[122.2,18.5],[122,16],[121.5,14.2],[124,13],[123,13.5],[121,13.5],[120.6,14.5],[120,16]],[[122,7],[123.5,8],[125.5,9.6],[126.5,7.3],[125.5,5.8],[124,6.2]],[[122,11.5],[124,12.5],[125.7,11.2],[124,9.6],[122.3,9.7]]],
"Australia":[[[113.5,-22],[114,-26.5],[115,-30],[115,-33.6],[118,-35],[121,-33.8],[124,-33],[126.5,-32.2],[131,-31.5],[134,-32.5],[135.5,-34.8],[137.8,-33],[138,-35.5],[140,-38],[143.5,-38.8],[146.3,-39],[148,-37.8],[150,-37.5],[150.7,-35],[151.5,-33],[153,-31],[153.6,-28.2],[153.1,-25.5],[150.8,-22.5],[149,-20.5],[146.3,-19],[145.3,-15],[143.5,-13.8],[142.5,-10.7],[141.6,-12.7],[141.5,-17],[140,-17.7],[137,-15.9],[135.5,-15],[136.8,-12.2],[133,-11.2],[131,-12.2],[129.5,-15],[127,-13.8],[125,-15.5],[123,-16.5],[121.5,-19.5],[118.5,-20.3],[116,-21],[114.5,-21.8]],[[144.7,-40.7],[148.3,-40.9],[148,-42.5],[146.8,-43.6],[145.2,-42.3]]],
"New Zealand":[[[172.7,-34.5],[174.5,-35.8],[175.8,-37],[178.5,-37.7],[177.5,-39.2],[176,-41.3],[174.7,-41.3],[175.2,-40],[173.8,-39.2],[174.6,-38],[174.5,-36.8]],[[172.7,-40.5],[174.3,-41.5],[173,-43.7],[171.2,-44.5],[170.5,-46],[168.5,-46.6],[166.5,-46],[168,-44],[170.5,-42.8]]]
};
// internal borders of the base continents (lines only)
const borderLines = [
 [[-64,1.9],[-66.3,0.7],[-66.9,1.2],[-69.4,1.1],[-69.6,-1.5],[-70,-4.2],[-73,-5],[-73.5,-7.5],[-72.5,-9.5],[-70.5,-11],[-69,-11],[-65.3,-10],[-63,-12.5],[-61,-13.5],[-60,-16],[-58.2,-16.3],[-58,-20],[-54.5,-24],[-54,-27],[-56,-28],[-57.6,-30.2],[-53.5,-34]],
 [[-69,-11],[-69.5,-14],[-69,-16.5],[-69.5,-17.6]],
 [[-68.3,-21.5],[-66,-22],[-62.6,-22.2],[-62,-20],[-58,-20]],
 [[-62.6,-22.2],[-61,-23.5],[-58,-27],[-55.7,-27.3],[-54.5,-24]],
 [[-57.6,-30.2],[-58.4,-33.5]],
 [[-8.7,27.7],[-4.8,25],[-6.5,25]],[[-12.2,14.6],[-16.3,16.5]],[[-11.4,12.4],[-13.7,12.4]],
 [[-5.4,10.3],[-2.7,11],[0.2,11],[0.9,11]],[[-2.7,8],[0,11]]
];

// ---- projection ----
const RY=[0,.062,.124,.186,.248,.31,.372,.434,.4958,.5571,.6176,.6769,.7346,.7903,.8435,.8936,.9394,.9761,1];
function yFac(lat){const a=Math.min(90,Math.abs(lat));const i=Math.min(17,Math.floor(a/5));const t=(a-i*5)/5;const v=RY[i]+(RY[i+1]-RY[i])*t;return lat<0?-v:v;}
function proj(lon,lat){const w=Math.sqrt(Math.max(0,1-(lat/88.7)*(lat/88.7)));return [784+lon*3.978*w,533.5-407*yFac(lat)];}
function pathOf(poly,close){return 'M'+poly.map(p=>{const q=proj(p[0],p[1]);return q[0].toFixed(1)+','+q[1].toFixed(1);}).join('L')+(close?'Z':'');}
function colorFor(v){if(v===null||v===undefined)return noDataColor;let i=0;while(i<binEdges.length&&v>=binEdges[i])i++;return binColors[i];}
const NS='http://www.w3.org/2000/svg';

// graticule
const grat=document.getElementById('grat');
function line(pts,name){const p=document.createElementNS(NS,'path');p.setAttribute('d',pathOf(pts,false));


grat.appendChild(p);}
[-180,-120,-60,0,60,120,180].forEach(lon=>{const pts=[];for(let la=-76;la<=76;la+=1)pts.push([lon,la]);line(pts,'meridian-'+lon);});
[-49.5,0,49.5].forEach(la=>{line([[-180,la],[180,la]],'parallel-'+la);});

// countries
const land=document.getElementById('land');
function addBorder(b){const p=document.createElementNS(NS,'path');p.setAttribute('d',pathOf(b,false));p.setAttribute('fill','none');


land.appendChild(p);}
countryNames.forEach((name,i)=>{
  const polys=G[name]; if(!polys)return;
  const p=document.createElementNS(NS,'path');
  p.setAttribute('d',polys.map(pl=>pathOf(pl,true)).join(''));
  p.setAttribute('fill',colorFor(netMigration[i]));
  if(name==='Antarctica'){p.setAttribute('stroke','none');}
  
  
  const t=document.createElementNS(NS,'title');t.textContent=name+': '+(netMigration[i]===null?'no data':netMigration[i]);p.appendChild(t);
  land.appendChild(p);
  if(name==='South America base')borderLines.slice(0,5).forEach(b=>addBorder(b));
  if(name==='Africa base')borderLines.slice(5).forEach(b=>addBorder(b));
});
</script>
</body></html>
